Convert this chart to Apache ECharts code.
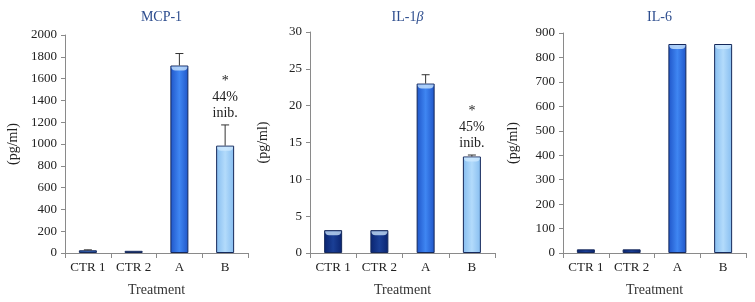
<!DOCTYPE html>
<html>
<head>
<meta charset="utf-8">
<script src="https://cdn.jsdelivr.net/npm/echarts@6/dist/echarts.min.js"></script>
<style>html,body{margin:0;padding:0;background:#fff}#c{width:755px;height:302px}</style>
</head>
<body>
<div id="c"></div>
<script>
const categories = ['CTR 1', 'CTR 2', 'A', 'B'];
const mcpValues = [25, 20, 1720, 985];
const mcpErrors = [4, 0, 110, 190];
const mcpNotes = ['', '', '', '*\n44%\ninib.'];
const il1Values = [3.1, 3.1, 23.0, 13.1];
const il1Errors = [0, 0, 1.2, 0.2];
const il1Notes = ['', '', '', '*\n45%\ninib.'];
const il6Values = [15, 15, 855, 855];
const il6Errors = [0, 0, 0, 0];
const il6Notes = ['', '', '', ''];
const titles = ['MCP-1', 'IL-1{i|β}', 'IL-6'];
const yMax = [2000, 30, 900];
const yInterval = [200, 5, 100];

const FONT = 'Liberation Serif';
function grad(edge, mid) {
  return new echarts.graphic.LinearGradient(0, 0, 1, 0, [
    {offset: 0, color: edge}, {offset: 0.5, color: mid}, {offset: 1, color: edge}
  ]);
}
const colA = grad('#1f55c8', '#3f86f2');
const colB = grad('#86bdf0', '#b3dbfb');
const colCtrMid = grad('#24509e', '#3f6fc0');
const colCtrDark = grad('#0a2470', '#1a3f96');
const panelColors = [
  [colCtrMid, colCtrMid, colA, colB],
  [colCtrDark, colCtrDark, colA, colB],
  [colCtrDark, colCtrDark, colA, colB]
];
const grids = [
  {left: 65, right: 507, top: 35, bottom: 49},
  {left: 310, right: 260, top: 32, bottom: 48},
  {left: 563, right: 9, top: 33, bottom: 48}
];
const nameGaps = [45, 40, 43];
const valueSets = [mcpValues, il1Values, il6Values];
const errorSets = [mcpErrors, il1Errors, il6Errors];
const noteSets = [mcpNotes, il1Notes, il6Notes];

const option = {
  animation: false,
  backgroundColor: '#fff',
  textStyle: {fontFamily: FONT},
  title: titles.map((t, i) => ({
    text: t,
    left: grids[i].left + (755 - grids[i].left - grids[i].right) / 2,
    textAlign: 'center',
    top: 5,
    textStyle: {fontFamily: FONT, fontSize: 14, fontWeight: 'normal', color: '#2d4d8e',
      rich: {i: {fontFamily: FONT, fontStyle: 'italic', fontSize: 14, color: '#2d4d8e'}}}
  })),
  grid: grids,
  xAxis: grids.map((g, i) => ({
    type: 'category', gridIndex: i, data: categories,
    name: 'Treatment', nameLocation: 'middle', nameGap: 30,
    nameTextStyle: {fontFamily: FONT, fontSize: 14, color: '#333'},
    axisLine: {lineStyle: {color: '#8a8a8a'}},
    axisTick: {show: true, length: 5, lineStyle: {color: '#8a8a8a'}},
    axisLabel: {fontFamily: FONT, fontSize: 13, color: '#222', margin: 8, interval: 0}
  })),
  yAxis: grids.map((g, i) => ({
    type: 'value', gridIndex: i, min: 0, max: yMax[i], interval: yInterval[i],
    name: '(pg/ml)', nameLocation: 'middle', nameGap: nameGaps[i], nameRotate: 90,
    nameTextStyle: {fontFamily: FONT, fontSize: 14, color: '#222'},
    splitLine: {show: false},
    axisLine: {show: true, lineStyle: {color: '#8a8a8a'}},
    axisTick: {show: true, length: 4, lineStyle: {color: '#8a8a8a'}},
    axisLabel: {fontFamily: FONT, fontSize: 13, color: '#222', margin: 8, formatter: v => String(v)}
  })),
  series: []
};

valueSets.forEach((vals, p) => {
  option.series.push({
    type: 'bar', xAxisIndex: p, yAxisIndex: p, barWidth: 18,
    data: vals.map((v, i) => ({value: v, itemStyle: {color: panelColors[p][i], borderColor: '#15285a', borderWidth: 1}}))
  });
  option.series.push({
    type: 'custom', xAxisIndex: p, yAxisIndex: p, z: 5,
    data: vals.map((v, i) => [i, v, errorSets[p][i]]),
    renderItem: function (params, api) {
      const idx = params.dataIndex;
      const x = api.value(0), v = api.value(1), e = api.value(2);
      const base = api.coord([x, v]);
      const top = api.coord([x, v + e]);
      const children = [];
      const h = api.coord([x, 0])[1] - base[1];
      if (h > 6) {
        children.push({
          type: 'rect',
          shape: {x: base[0] - 8, y: base[1] + 1, width: 16, height: 4, r: [0, 0, 6, 6]},
          style: {fill: 'rgba(210,235,255,0.75)'}
        });
      }
      if (e > 0) {
        children.push({type: 'line', shape: {x1: base[0], y1: base[1], x2: top[0], y2: top[1]}, style: {stroke: '#333', lineWidth: 1}});
        children.push({type: 'line', shape: {x1: top[0] - 4, y1: top[1], x2: top[0] + 4, y2: top[1]}, style: {stroke: '#333', lineWidth: 1}});
      }
      const note = noteSets[p][idx];
      if (note) {
        children.push({
          type: 'text',
          style: {text: note, x: top[0], y: top[1] - 4, align: 'center', verticalAlign: 'bottom',
            font: '14px "Liberation Serif"', fill: '#222', lineHeight: 16}
        });
      }
      return {type: 'group', children: children};
    }
  });
});

const chart = echarts.init(document.getElementById('c'), null, {renderer: 'canvas'});
chart.setOption(option);
</script>
</body>
</html>
